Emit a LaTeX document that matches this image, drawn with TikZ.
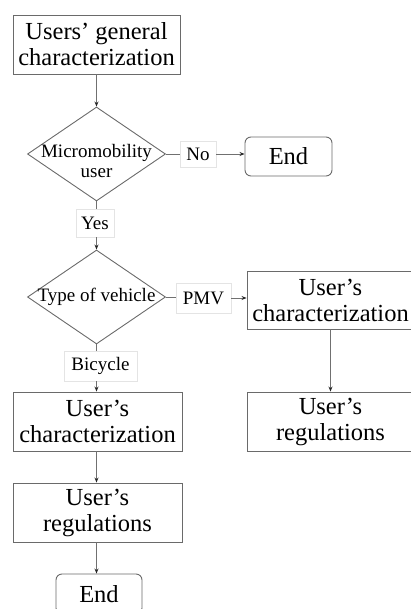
\documentclass[tikz,border=0pt]{standalone}
\usepackage{fontspec}
\setmainfont{Liberation Serif}
\usetikzlibrary{arrows.meta,shapes.geometric}
\definecolor{edge}{HTML}{707070}
\definecolor{boxline}{HTML}{6A6A6A}
\definecolor{lblline}{HTML}{E4E4E4}
\tikzset{
  bigbox/.style={draw=boxline,line width=0.9pt,fill=white,inner sep=0pt,align=center,
    font=\fontsize{24.5}{26}\selectfont},
  endbox/.style={bigbox,rounded corners=6pt},
  dia/.style={draw=boxline,line width=0.9pt,shape=diamond,inner sep=0pt,
    minimum width=138pt,minimum height=94pt},
  diatext/.style={inner sep=0pt,align=center,font=\fontsize{19}{20}\selectfont},
  lbl/.style={draw=lblline,line width=0.6pt,fill=white,inner sep=0pt,
    font=\fontsize{19}{20}\selectfont},
  conn/.style={draw=edge,line width=0.9pt},
  arr/.style={conn,-{Stealth[length=5pt,width=4pt,color=black!85]}}
}
\begin{document}
\begin{tikzpicture}[x=1pt,y=-1pt]
\useasboundingbox (0,0) rectangle (410,609);
% main boxes
\node[bigbox,minimum width=167pt,minimum height=59pt] (top) at (96.5,44.5) {Users’ general\\characterization};
\node[dia] (d1) at (96.5,154) {};
\node[diatext] (d1t) at (96.5,161) {Micromobility\\user};
\node[lbl,minimum width=36pt,minimum height=26pt] (no) at (198,154) {No};
\node[endbox,minimum width=87pt,minimum height=39pt] (end1) at (288.5,156.5) {End};
\node[lbl,minimum width=38pt,minimum height=28pt] (yes) at (95,223) {Yes};
\node[dia] (d2) at (96.5,297) {};
\node[diatext] (d2t) at (96.5,297) {Type of vehicle};
\node[lbl,minimum width=55pt,minimum height=30pt] (pmv) at (203.5,298) {PMV};
\node[bigbox,minimum width=167pt,minimum height=58pt] (r1) at (330.5,300) {User’s\\characterization};
\node[bigbox,minimum width=167pt,minimum height=59pt] (r2) at (330.5,421.5) {User’s\\regulations};
\node[lbl,minimum width=73pt,minimum height=30pt] (bic) at (100.5,366) {Bicycle};
\node[bigbox,minimum width=169pt,minimum height=59pt] (l1) at (97.5,421.5) {User’s\\characterization};
\node[bigbox,minimum width=169pt,minimum height=59pt] (l2) at (97.5,512.5) {User’s\\regulations};
\node[endbox,minimum width=86pt,minimum height=40pt] (end2) at (99,594) {End};
% connectors
\draw[arr] (top.south -| d1.north) -- (d1.north);
\draw[conn] (d1.east) -- (d1.east -| no.west);
\draw[arr] (no.east) -- (no.east -| end1.west);
\draw[conn] (d1.south) -- (d1.south |- yes.north);
\draw[arr] (d2.north |- yes.south) -- (d2.north);
\draw[conn] (d2.east) -- (d2.east -| pmv.west);
\draw[arr] (pmv.east) -- (pmv.east -| r1.west);
\draw[arr] (r1.south) -- (r2.north);
\draw[conn] (d2.south) -- (d2.south |- bic.north);
\draw[arr] (d2.south |- bic.south) -- (d2.south |- l1.north);
\draw[arr] (l1.south -| d2.south) -- (l2.north -| d2.south);
\draw[arr] (l2.south -| d2.south) -- (end2.north -| d2.south);
\end{tikzpicture}
\end{document}
